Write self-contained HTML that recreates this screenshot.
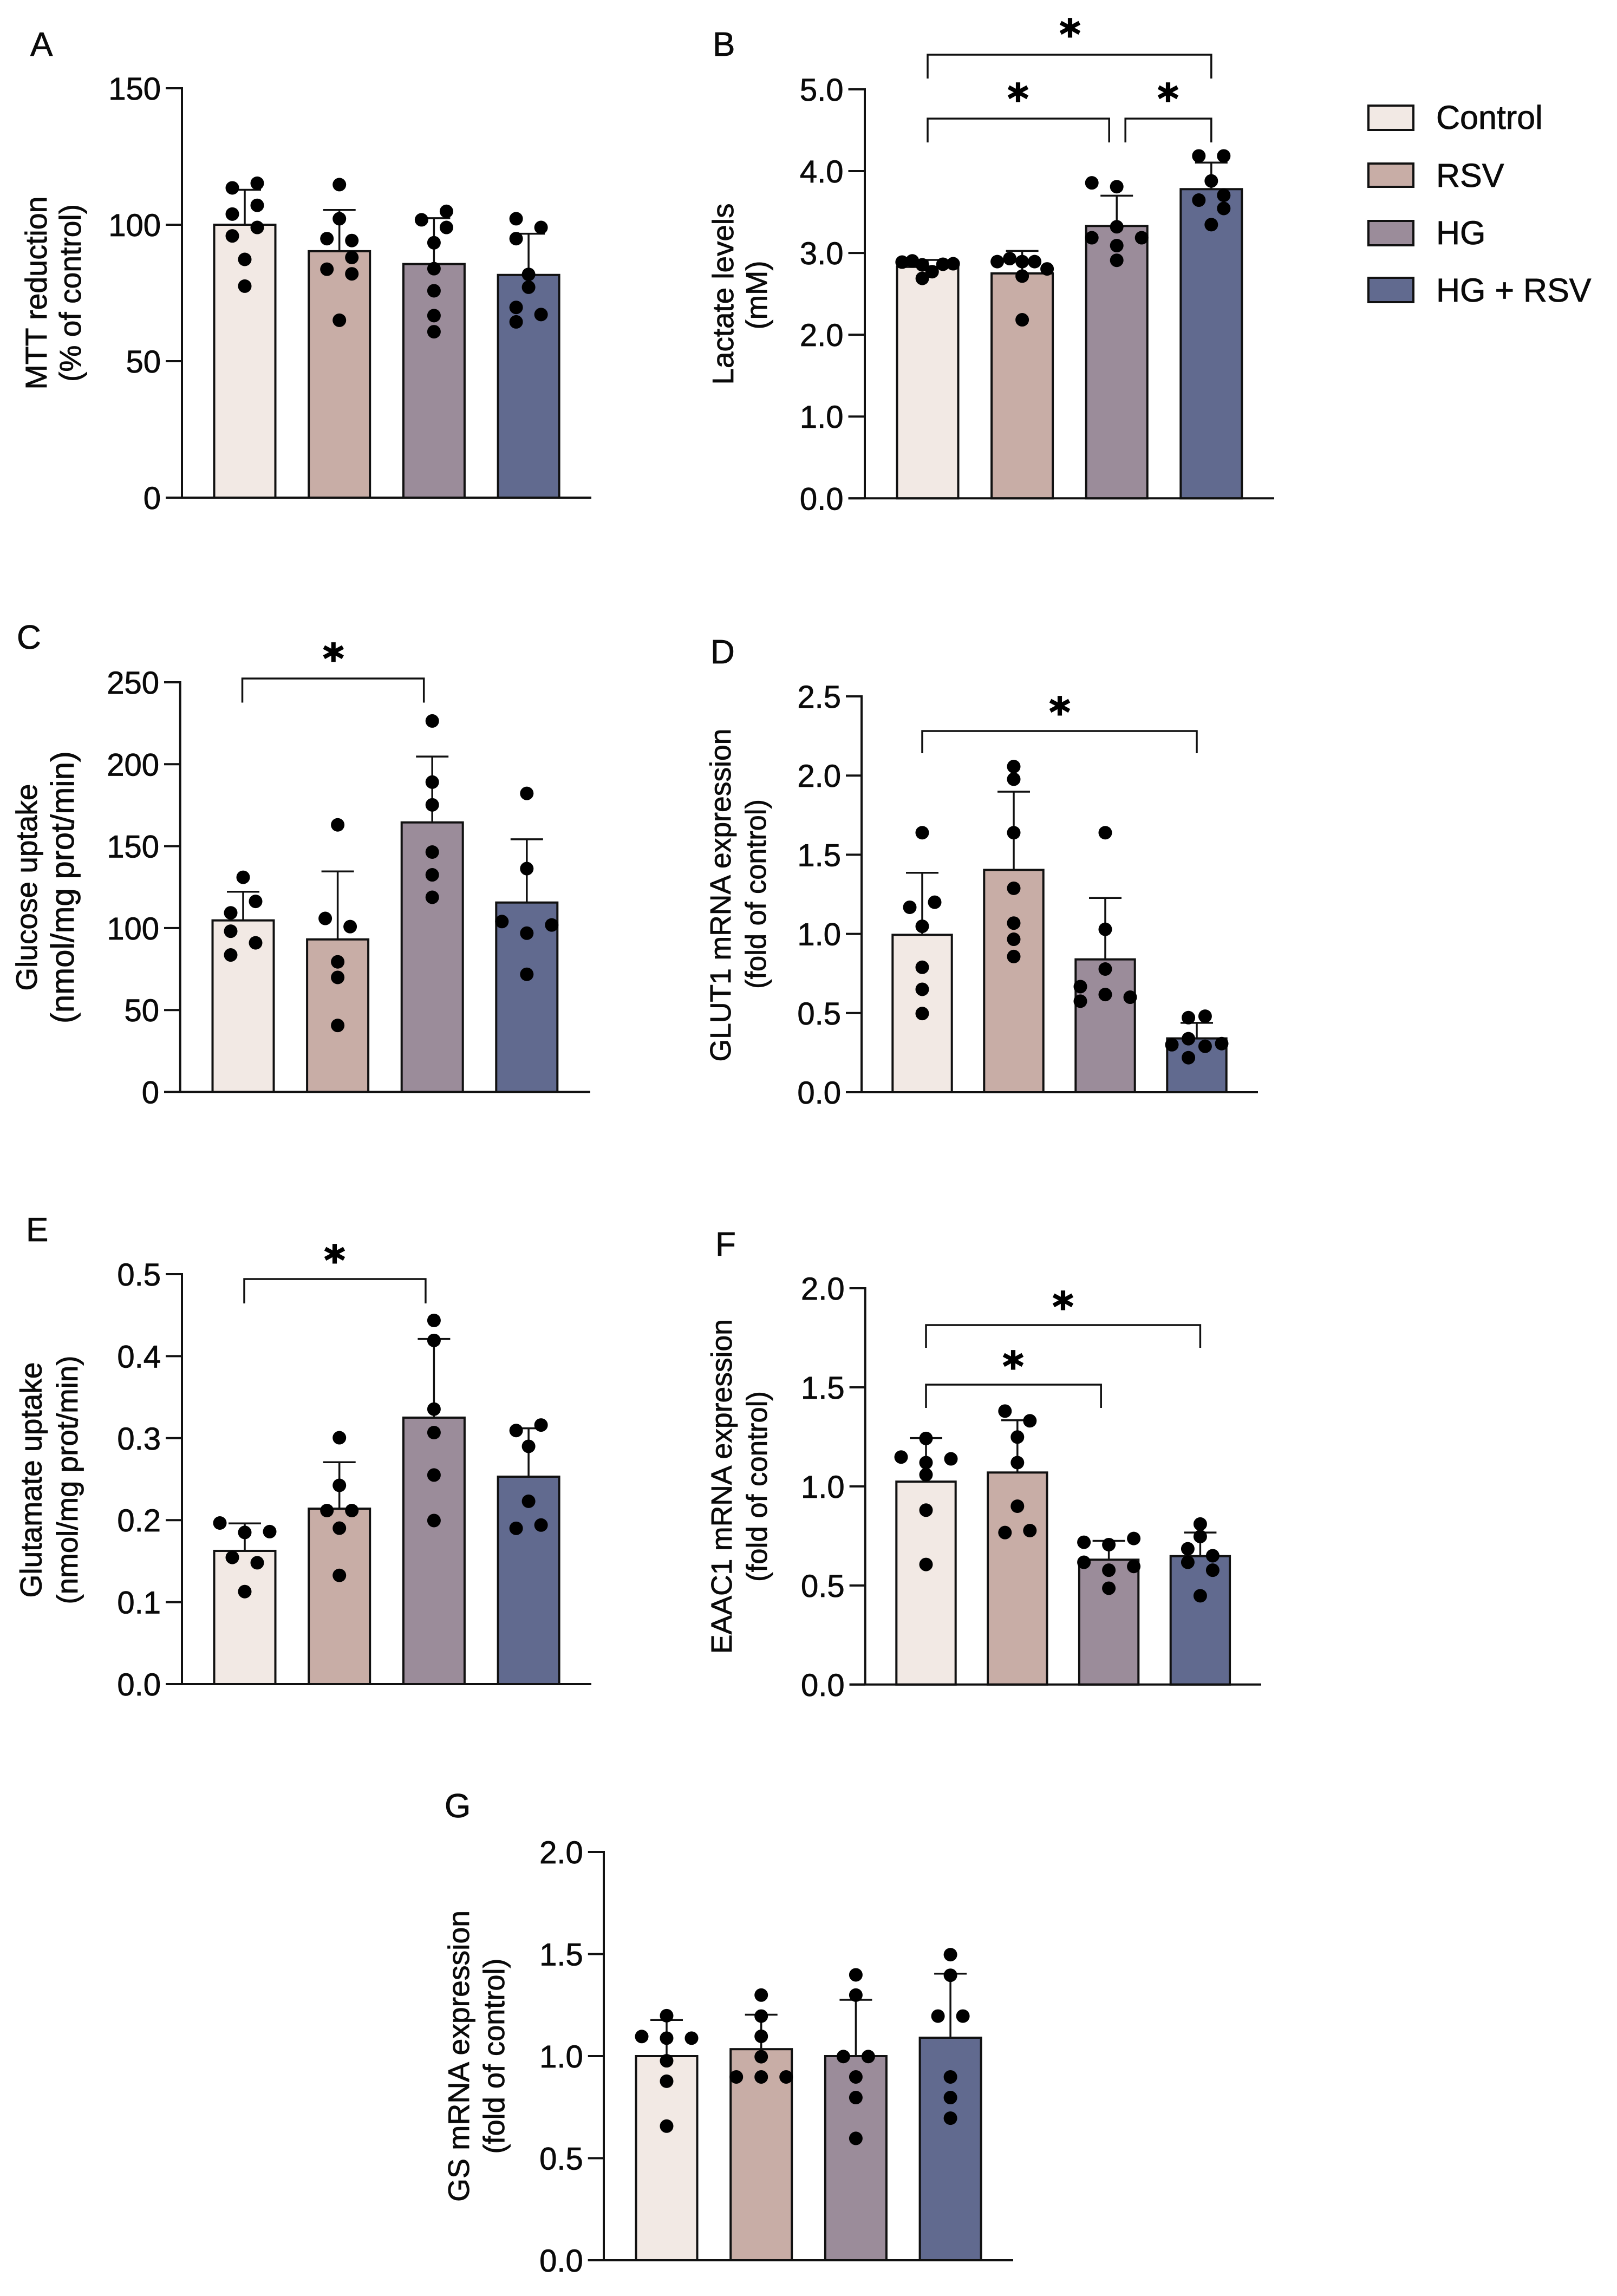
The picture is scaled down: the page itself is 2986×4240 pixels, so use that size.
<!DOCTYPE html>
<html lang="en">
<head>
<meta charset="utf-8">
<title>Metabolic bar chart panels A-G</title>
<style>
html,body{margin:0;padding:0;background:#fff;}
svg{display:block;}
text{font-family:"Liberation Sans",Arial,sans-serif;fill:#0a0a0a;stroke:#0a0a0a;stroke-width:0.8px;}
.star{font-family:"DejaVu Sans",sans-serif;font-weight:700;fill:#000;stroke:#000;stroke-width:2px;}
</style>
</head>
<body>
<svg id="figure" xmlns="http://www.w3.org/2000/svg" width="2986" height="4240" viewBox="0 0 2986 4240">
  <rect x="0" y="0" width="2986" height="4240" fill="#ffffff"/>
  <g>
    <g>
      <rect x="2527" y="195" width="83" height="45" fill="#f2e9e4" stroke="#111" stroke-width="4"/>
      <text x="2652" y="238" font-size="61">Control</text>
    </g>
    <g>
      <rect x="2527" y="302" width="83" height="43" fill="#c8ada6" stroke="#111" stroke-width="4"/>
      <text x="2652" y="345" font-size="61">RSV</text>
    </g>
    <g>
      <rect x="2527" y="408" width="83" height="45" fill="#9b8c9a" stroke="#111" stroke-width="4"/>
      <text x="2652" y="451" font-size="61">HG</text>
    </g>
    <g>
      <rect x="2527" y="513" width="83" height="45" fill="#616a8f" stroke="#111" stroke-width="4"/>
      <text x="2652" y="557" font-size="61">HG + RSV</text>
    </g>
  </g>
  <text x="56" y="103" font-size="62">A</text>
  <text x="1316" y="103" font-size="62">B</text>
  <text x="31" y="1198" font-size="62">C</text>
  <text x="1312" y="1225" font-size="62">D</text>
  <text x="48" y="2292" font-size="62">E</text>
  <text x="1321" y="2319" font-size="62">F</text>
  <text x="821" y="3356" font-size="62">G</text>
</svg>
<script>
const groupKeys = ['control', 'rsv', 'hg', 'hg-rsv'];
const groupFills = ['#f2e9e4', '#c8ada6', '#9b8c9a', '#616a8f'];

// Panel A: MTT reduction
const aMeans = [100, 90.3, 85.6, 81.6];
const aSds = [12.8, 15.1, 16.8, 15.1];
const aTicks = [0, 50, 100, 150];
const aTickLabels = ['0', '50', '100', '150'];
const aPoints = [
  [115.2, 113.5, 107.1, 103.9, 99, 95.9, 87.3, 77.5],
  [114.7, 102.2, 94.9, 94.2, 88, 83.7, 82, 65],
  [104.9, 101.8, 99, 93.4, 83.9, 75.8, 66.7, 60.8],
  [102.2, 99, 94.9, 81.8, 77.1, 69.7, 67.1, 64.4]
];
const aSlots = [
  [1, -1, 1, -1, 1, -1, 0, 0],
  [0, 0, -1, 1, 1, -1, 1, 0],
  [1, -1, 1, 0, 0, 0, 0, 0],
  [-1, 1, -1, 0, 0, -1, 1, -1]
];

// Panel B: Lactate levels
const bMeans = [2.83, 2.75, 3.33, 3.78];
const bSds = [0.085, 0.275, 0.37, 0.325];
const bTicks = [0, 1, 2, 3, 4, 5];
const bTickLabels = ['0.0', '1.0', '2.0', '3.0', '4.0', '5.0'];
const bPoints = [
  [2.888, 2.903, 2.855, 2.862, 2.868, 2.771, 2.689],
  [2.894, 2.931, 2.894, 2.894, 2.805, 2.717, 2.183],
  [3.857, 3.81, 3.32, 3.186, 3.186, 3.09, 2.91],
  [4.186, 4.186, 3.88, 3.705, 3.646, 3.544, 3.346]
];
const bSlots = [
  [-2.05, -1.23, -0.43, 1.23, 2.05, 0.36, -0.43],
  [-2, -1, 0, 1, 2, 0, 0],
  [-2, 0, 0, -2, 2, 0, 0],
  [-1, 1, 0, 1, -1, 1, 0]
];

// Panel C: Glucose uptake
const cMeans = [104.7, 93.1, 164.5, 115.6];
const cSds = [17.5, 41.5, 40.2, 38.6];
const cTicks = [0, 50, 100, 150, 200, 250];
const cTickLabels = ['0', '50', '100', '150', '200', '250'];
const cPoints = [
  [131, 116.3, 109.3, 98.1, 91, 83.6],
  [163, 105.9, 100.9, 79.4, 69.9, 40.6],
  [226.4, 189.1, 175.2, 146.4, 132.5, 118.8],
  [182.2, 136.3, 104, 101.9, 96.9, 71.8]
];
const cSlots = [
  [0, 1, -1, -1, 1, -1],
  [0, -1, 1, 0, 0, 0],
  [0, 0, 0, 0, 0, 0],
  [0, 0, -2, 2, 0, 0]
];

// Panel D: GLUT1 mRNA expression
const dMeans = [0.994, 1.404, 0.839, 0.34];
const dSds = [0.392, 0.494, 0.388, 0.098];
const dTicks = [0, 0.5, 1, 1.5, 2, 2.5];
const dTickLabels = ['0.0', '0.5', '1.0', '1.5', '2.0', '2.5'];
const dPoints = [
  [1.639, 1.2, 1.168, 1.048, 0.789, 0.65, 0.497],
  [2.057, 1.977, 1.639, 1.288, 1.068, 0.966, 0.857],
  [1.639, 1.029, 0.778, 0.667, 0.617, 0.6, 0.575],
  [0.471, 0.48, 0.338, 0.3, 0.29, 0.307, 0.218]
];
const dSlots = [
  [0, 1, -1, 0, 0, 0, 0],
  [0, 0, 0, 0, 0, 0, 0],
  [0, 0, 0, -2, 0, 2, -2],
  [-0.67, 0.67, -0.67, -2, 0.67, 2, -0.67]
];

// Panel E: Glutamate uptake
const eMeans = [0.1625, 0.214, 0.325, 0.253];
const eSds = [0.0335, 0.0566, 0.096, 0.059];
const eTicks = [0, 0.1, 0.2, 0.3, 0.4, 0.5];
const eTickLabels = ['0.0', '0.1', '0.2', '0.3', '0.4', '0.5'];
const ePoints = [
  [0.1965, 0.186, 0.185, 0.1545, 0.148, 0.1128],
  [0.3005, 0.2424, 0.2117, 0.2117, 0.1902, 0.1326],
  [0.4436, 0.4192, 0.3354, 0.3068, 0.255, 0.1995],
  [0.316, 0.3093, 0.29, 0.223, 0.194, 0.19]
];
const eSlots = [
  [-2, 2, 0, -1, 1, 0],
  [0, 0, -1, 1, 0, 0],
  [0, 0, 0, 0, 0, 0],
  [1, -1, 0, 0, 1, -1]
];

// Panel F: EAAC1 mRNA expression
const fMeans = [1.024, 1.07, 0.63, 0.648];
const fSds = [0.22, 0.264, 0.095, 0.119];
const fTicks = [0, 0.5, 1, 1.5, 2];
const fTickLabels = ['0.0', '0.5', '1.0', '1.5', '2.0'];
const fPoints = [
  [1.242, 1.148, 1.139, 1.12, 1.059, 0.88, 0.606],
  [1.38, 1.331, 1.249, 1.12, 0.9, 0.777, 0.767],
  [0.718, 0.737, 0.706, 0.617, 0.596, 0.577, 0.486],
  [0.81, 0.747, 0.685, 0.65, 0.617, 0.577, 0.448]
];
const fSlots = [
  [0, -2, 2, 0, 0, 0, 0],
  [-1, 1, 0, 0, 0, 1, -1],
  [-2, 2, 0, -2, 2, 0, 0],
  [0, 0, -1, 1, -1, 1, 0]
];

// Panel G: GS mRNA expression
const gMeans = [1, 1.034, 1, 1.09];
const gSds = [0.177, 0.169, 0.276, 0.314];
const gTicks = [0, 0.5, 1, 1.5, 2];
const gTickLabels = ['0.0', '0.5', '1.0', '1.5', '2.0'];
const gPoints = [
  [1.198, 1.096, 1.088, 1.088, 0.977, 0.877, 0.657],
  [1.299, 1.196, 1.097, 0.997, 0.898, 0.898, 0.898],
  [1.398, 1.299, 0.998, 0.998, 0.898, 0.797, 0.597],
  [1.497, 1.396, 1.196, 1.196, 0.898, 0.797, 0.696]
];
const gSlots = [
  [0, -2, 2, 0, 0, 0, 0],
  [0, 0, 0, 0, -2, 0, 2],
  [0, 0, -1, 1, 0, 0, 0],
  [0, 0, -1, 1, 0, 0, 0]
];

const svgNS = 'http://www.w3.org/2000/svg';
const figure = document.getElementById('figure');
const SLOT_PX = 23;
const DOT_R = 12.5;

function make(tag, parent, attrs) {
  const el = document.createElementNS(svgNS, tag);
  for (const k in attrs) el.setAttribute(k, attrs[k]);
  parent.appendChild(el);
  return el;
}

function drawTitle(parent, key, lineIndex, line) {
  const t = make('text', parent, {
    transform: 'translate(' + line.x + ',' + line.cy + ') rotate(-90)',
    'text-anchor': 'middle',
    'font-size': line.size,
    textLength: line.length,
    lengthAdjust: 'spacingAndGlyphs'
  });
  
  
  t.textContent = line.text;
}

function drawPanel(p) {
  const g = make('g', figure, {});
  
  

  const maxTick = p.ticks[p.ticks.length - 1];
  const yScale = function (v) { return p.y0 - (v / maxTick) * (p.y0 - p.yTop); };
  const xScale = function (i) { return p.first + i * p.step; };

  p.means.forEach(function (m, i) {
    const cx = xScale(i);
    const bar = make('rect', g, {
      x: cx - p.barW / 2, y: yScale(m), width: p.barW, height: p.y0 - yScale(m),
      fill: groupFills[i], stroke: '#111', 'stroke-width': 4
    });
    
    

    const top = yScale(m + p.sds[i]);
    const stem = make('line', g, {
      x1: cx, x2: cx, y1: yScale(m), y2: top, stroke: '#111', 'stroke-width': 3.5
    });
    
    

    const cap = make('line', g, {
      x1: cx - 30, x2: cx + 30, y1: top, y2: top, stroke: '#111', 'stroke-width': 3.5
    });
    
    
  });

  p.points.forEach(function (col, i) {
    col.forEach(function (v, j) {
      const dot = make('circle', g, {
        cx: xScale(i) + p.slots[i][j] * SLOT_PX, cy: yScale(v), r: DOT_R, fill: '#000'
      });
      
      
    });
  });

  const yAxis = make('line', g, {
    x1: p.axisX, x2: p.axisX, y1: p.yTop - 2, y2: p.y0, stroke: '#111', 'stroke-width': 4
  });
  
  

  const xAxis = make('line', g, {
    x1: p.tickLeft, x2: p.right, y1: p.y0, y2: p.y0, stroke: '#111', 'stroke-width': 4
  });
  
  

  p.ticks.forEach(function (v, i) {
    const y = yScale(v);
    const tick = make('line', g, {
      x1: p.tickLeft, x2: p.axisX, y1: y, y2: y, stroke: '#111', 'stroke-width': 4
    });
    
    

    const lab = make('text', g, {
      x: p.tickLeft - 9, y: y + 21, 'text-anchor': 'end', 'font-size': 58
    });
    
    
    lab.textContent = p.tickLabels[i];
  });

  p.title.forEach(function (line, i) { drawTitle(g, p.key, i, line); });

  (p.brackets || []).forEach(function (b, i) {
    const xa = xScale(b.from) + (b.fromShift || 0);
    const xb = xScale(b.to) + (b.toShift || 0);
    const path = make('path', g, {
      d: 'M' + xa + ' ' + b.bottom + 'V' + b.y + 'H' + xb + 'V' + b.bottom,
      fill: 'none', stroke: '#111', 'stroke-width': 3.5
    });
    
    

    const star = make('text', g, {
      x: b.starX, y: b.starY + 37, 'text-anchor': 'middle', 'font-size': 74, class: 'star'
    });
    
    
    star.textContent = '*';
  });
}

drawPanel({
  key: 'a', means: aMeans, sds: aSds, points: aPoints, slots: aSlots, ticks: aTicks, tickLabels: aTickLabels,
  axisX: 336, y0: 919, yTop: 163, tickLeft: 306, right: 1092, first: 452, step: 174.7, barW: 113,
  title: [
    {text: 'MTT reduction', x: 86, cy: 541, size: 56, length: 357},
    {text: '(% of control)', x: 149, cy: 541, size: 56, length: 328}
  ]
});
drawPanel({
  key: 'b', means: bMeans, sds: bSds, points: bPoints, slots: bSlots, ticks: bTicks, tickLabels: bTickLabels,
  axisX: 1597, y0: 920.3, yTop: 165, tickLeft: 1566.5, right: 2353, first: 1713, step: 174.6, barW: 113,
  title: [
    {text: 'Lactate levels', x: 1354, cy: 543, size: 55, length: 335},
    {text: '(mM)', x: 1416, cy: 545, size: 55, length: 127}
  ],
  brackets: [
    {from: 0, to: 3, y: 101, bottom: 145, starX: 1976, starY: 52},
    {from: 0, to: 2, toShift: -14, y: 219, bottom: 263, starX: 1880, starY: 171},
    {from: 2, fromShift: 16, to: 3, y: 219, bottom: 263, starX: 2157, starY: 171}
  ]
});
drawPanel({
  key: 'c', means: cMeans, sds: cSds, points: cPoints, slots: cSlots, ticks: cTicks, tickLabels: cTickLabels,
  axisX: 332.7, y0: 2016.5, yTop: 1260, tickLeft: 303, right: 1090, first: 449, step: 174.6, barW: 113,
  title: [
    {text: 'Glucose uptake', x: 68, cy: 1638.6, size: 55, length: 382},
    {text: '(nmol/mg prot/min)', x: 136, cy: 1638.6, size: 60, length: 503}
  ],
  brackets: [
    {from: 0, fromShift: -1.5, to: 2, toShift: -15.5, y: 1253, bottom: 1297.5, starX: 615.7, starY: 1205}
  ]
});
drawPanel({
  key: 'd', means: dMeans, sds: dSds, points: dPoints, slots: dSlots, ticks: dTicks, tickLabels: dTickLabels,
  axisX: 1591, y0: 2017, yTop: 1286, tickLeft: 1562, right: 2323, first: 1703, step: 169, barW: 109.4,
  title: [
    {text: 'GLUT1 mRNA expression', x: 1349, cy: 1653, size: 53.5, length: 615},
    {text: '(fold of control)', x: 1414, cy: 1651, size: 53, length: 350}
  ],
  brackets: [
    {from: 0, to: 3, y: 1350, bottom: 1391, starX: 1957, starY: 1304}
  ]
});
drawPanel({
  key: 'e', means: eMeans, sds: eSds, points: ePoints, slots: eSlots, ticks: eTicks, tickLabels: eTickLabels,
  axisX: 336, y0: 3110, yTop: 2353, tickLeft: 306, right: 1092, first: 452, step: 174.7, barW: 113,
  title: [
    {text: 'Glutamate uptake', x: 76.5, cy: 2733, size: 55.5, length: 435},
    {text: '(nmol/mg prot/min)', x: 143, cy: 2733, size: 55, length: 459}
  ],
  brackets: [
    {from: 0, fromShift: -1, to: 2, toShift: -15.5, y: 2362, bottom: 2407, starX: 618, starY: 2316}
  ]
});
drawPanel({
  key: 'f', means: fMeans, sds: fSds, points: fPoints, slots: fSlots, ticks: fTicks, tickLabels: fTickLabels,
  axisX: 1597.7, y0: 3110.8, yTop: 2379, tickLeft: 1568.6, right: 2329, first: 1710, step: 168.8, barW: 109.4,
  title: [
    {text: 'EAAC1 mRNA expression', x: 1351, cy: 2745, size: 53.6, length: 618},
    {text: '(fold of control)', x: 1416, cy: 2745, size: 53, length: 352}
  ],
  brackets: [
    {from: 0, to: 3, y: 2447, bottom: 2489, starX: 1963, starY: 2402},
    {from: 0, to: 2, toShift: -14.4, y: 2557, bottom: 2600, starX: 1871, starY: 2512}
  ]
});
drawPanel({
  key: 'g', means: gMeans, sds: gSds, points: gPoints, slots: gSlots, ticks: gTicks, tickLabels: gTickLabels,
  axisX: 1115, y0: 4174, yTop: 3420, tickLeft: 1085.8, right: 1871, first: 1231, step: 174.7, barW: 113,
  title: [
    {text: 'GS mRNA expression', x: 866, cy: 3797, size: 55, length: 538},
    {text: '(fold of control)', x: 931, cy: 3797, size: 54.5, length: 361}
  ]
});
</script>
</body>
</html>
